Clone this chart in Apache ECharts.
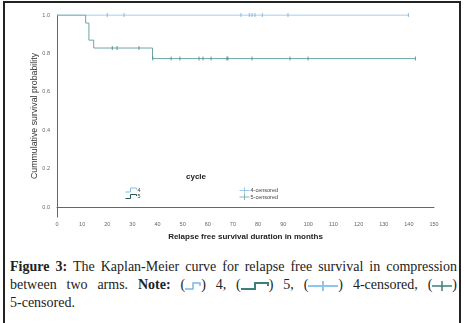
<!DOCTYPE html>
<html>
<head>
<meta charset="utf-8">
<script src="https://cdn.jsdelivr.net/npm/echarts@6/dist/echarts.min.js"></script>
<style>
  html, body { margin: 0; padding: 0; background: #fff; }
  #wrap { position: relative; width: 467px; height: 323px; overflow: hidden; }
  #frame { position: absolute; left: 3px; top: 1px; width: 458px; height: 340px; border: 2px solid #222; box-sizing: border-box; }
  #chart { position: absolute; left: 0; top: 0; width: 467px; height: 250px; }
  #caption { position: absolute; left: 10px; top: 258px; width: 447px; font-family: "Liberation Serif", serif; font-size: 14px; line-height: 18px; color: #222; }
  #caption div.j { text-align: justify; text-align-last: justify; white-space: nowrap; }
  #caption b { font-weight: bold; }
  #caption svg { vertical-align: -2px; }
</style>
</head>
<body>
<div id="wrap">
  <div id="frame"></div>
  <div id="chart"></div>
  <div id="caption">
    <div class="j"><b>Figure 3:</b> The Kaplan-Meier curve for relapse free survival in compression</div>
    <div class="j">between two arms. <b>Note:</b> (<svg width="16" height="10"><path d="M0,8 L8,8 L8,2 L15,2 L15,5" fill="none" stroke="#7ab8e4" stroke-width="1.5"/></svg>) 4, (<svg width="28" height="10"><path d="M0,8 L14,8 L14,2 L27,2 L27,5" fill="none" stroke="#3f7f7b" stroke-width="2"/></svg>) 5, (<svg width="30" height="10"><path d="M0,5 L30,5 M15,0 L15,10" fill="none" stroke="#8cc6ec" stroke-width="2"/></svg>) 4-censored, (<svg width="20" height="10"><path d="M0,5 L20,5 M10,0 L10,10" fill="none" stroke="#3f7f7b" stroke-width="1.5"/></svg>)</div>
    <div>5-censored.</div>
  </div>
</div>
<script>
var chart = echarts.init(document.getElementById("chart"));

// Kaplan-Meier steps: [months, survival]
var cycle4 = [[0, 1], [140, 1]];
var cycle5 = [[0, 1], [11.4, 0.958], [12.7, 0.869], [14.6, 0.828], [38, 0.773], [142.6, 0.773]];

// censored times
var cens4 = [20, 26.7, 73.2, 76.5, 77.6, 78.8, 81.7, 91.9, 139.8];
var cens5Upper = [22, 23.9, 32.6];
var cens5Lower = [38.1, 45.4, 48.9, 56.5, 58.1, 61.3, 67.6, 68, 77.6, 92.7, 99.9, 142.6];

var xTicks = [0, 10, 20, 30, 40, 50, 60, 70, 80, 90, 100, 110, 120, 130, 140, 150];
var yTicks = [0, 0.2, 0.4, 0.6, 0.8, 1.0];

var c4 = "#86bde6", c5 = "#6ea5a3";

var cens4Data = cens4.map(function (t) { return [t, 1]; });
var cens5Data = cens5Upper.map(function (t) { return [t, 0.828]; })
  .concat(cens5Lower.map(function (t) { return [t, 0.773]; }));

var stepIcon = "path://M0,4 L5,4 L5,0 L11,0 L11,1.5";
var plusIcon = "path://M0,3 L10,3 M5,0 L5,6";

function legendItem(name, icon, color, left, top, w, h) {
  return {
    orient: "horizontal", left: left, top: top, padding: 0,
    itemWidth: w, itemHeight: h, itemGap: 0,
    textStyle: { fontSize: 5.5, color: "#444", lineHeight: 6, padding: [0, 0, 0, -4] },
    data: [{ name: name, icon: icon, itemStyle: { color: "none", borderColor: color, borderWidth: 1 } }]
  };
}

chart.setOption({
  animation: false,
  textStyle: { fontFamily: "Liberation Sans, Arial, sans-serif" },
  grid: { left: 57, right: 33, top: 15, height: 202 },
  graphic: [{
    type: "text", left: 186, top: 173,
    style: { text: "cycle", font: "bold 8px Liberation Sans, Arial, sans-serif", fill: "#222" }
  }],
  legend: [
    legendItem("4", stepIcon, c4, 123, 185.5, 11, 4),
    legendItem("5", stepIcon, "#1f5a55", 123, 192, 11, 4),
    legendItem("4-censored", plusIcon, c4, 237, 185, 10, 6),
    legendItem("5-censored", plusIcon, c5, 237, 191.5, 10, 6)
  ],
  xAxis: {
    type: "value", min: 0, max: 150, interval: 10,
    name: "Relapse free survival duration in months",
    nameLocation: "middle", nameGap: 16,
    nameTextStyle: { fontSize: 8, fontWeight: "bold", color: "#222" },
    axisLine: { show: true, lineStyle: { color: "#666", width: 1 } },
    axisTick: { show: false },
    splitLine: { show: false },
    axisLabel: { fontSize: 5.5, color: "#666", margin: 4,
      customValues: xTicks }
  },
  yAxis: {
    type: "value", min: -0.052, max: 1,
    name: "Cummulative survival probability",
    nameLocation: "middle", nameGap: 18, nameRotate: 90, nameMoveOverlap: false,
    nameTextStyle: { fontSize: 8.8, color: "#333" },
    axisLine: { show: true, onZero: false, lineStyle: { color: "#666", width: 1 } },
    axisTick: { show: false },
    splitLine: { show: false },
    axisLabel: { fontSize: 5.5, color: "#666", margin: 7,
      customValues: yTicks,
      formatter: function (v) { return v.toFixed(1); } }
  },
  series: [{
    name: "4", type: "line", step: "end", data: cycle4,
    symbol: "none", lineStyle: { color: c4, width: 1 }, itemStyle: { color: c4 }, z: 2
  }, {
    name: "5", type: "line", step: "end", data: cycle5,
    symbol: "none", lineStyle: { color: c5, width: 1 }, itemStyle: { color: c5 }, z: 3
  }, {
    name: "4-censored", type: "scatter",
    data: cens4Data, symbol: "rect", symbolSize: [1, 4],
    itemStyle: { color: "#6aaedc" }, z: 4
  }, {
    name: "5-censored", type: "scatter",
    data: cens5Data, symbol: "rect", symbolSize: [1, 4],
    itemStyle: { color: "#3f8480" }, z: 4
  }]
});
</script>
</body>
</html>
